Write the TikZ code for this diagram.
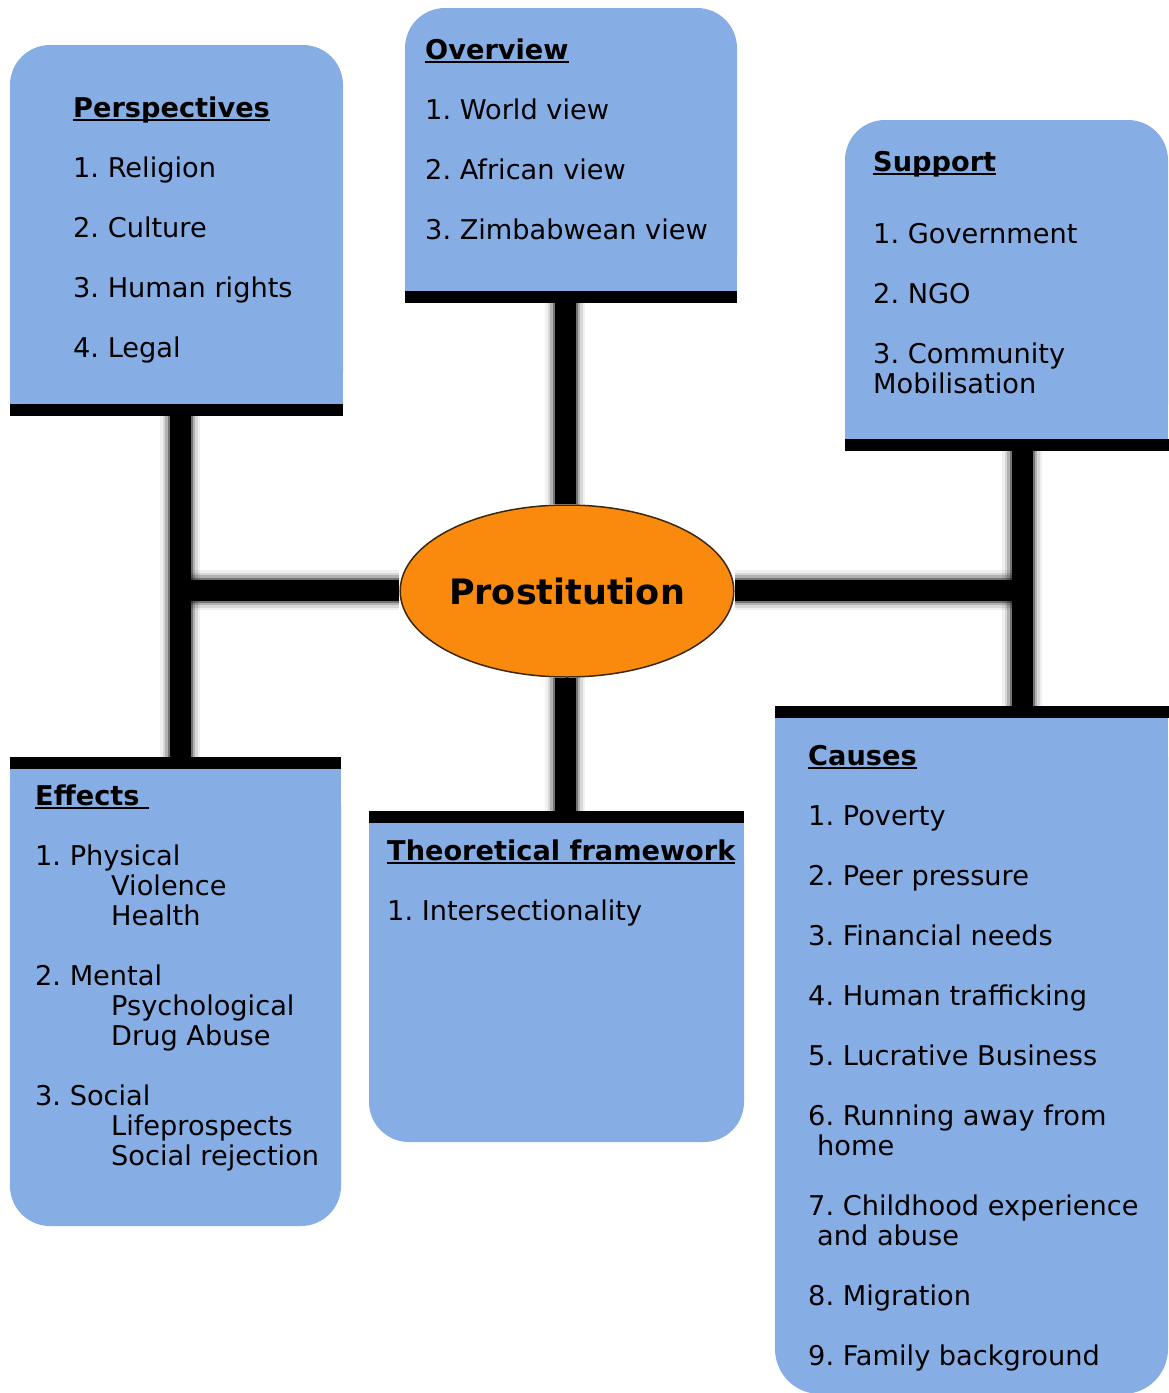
\documentclass[tikz,border=0pt]{standalone}
\usepackage{fontspec}
\setmainfont{DejaVu Sans}
\usetikzlibrary{shapes.geometric,backgrounds}
\definecolor{boxblue}{RGB}{135,174,228}
\definecolor{ellorange}{RGB}{250,138,14}
\definecolor{ellline}{RGB}{60,40,10}
\newcommand\myul[1]{{\setbox0=\hbox{#1}\rlap{\rule[-3.5pt]{\wd0}{2pt}}\box0}}
\frenchspacing
\begin{document}
\begin{tikzpicture}[x=1pt,y=-1pt,
  txt/.style={anchor=base west, inner sep=0pt, font=\fontsize{27.2}{30}\selectfont},
  ttl/.style={anchor=base west, inner sep=0pt, font=\fontsize{27.2}{30}\selectfont\bfseries},
  boxfill/.style={fill=boxblue},
  bar/.style={line width=12pt, black},
  conn/.style={line width=21pt, black,
    preaction={draw, line width=40pt, black, opacity=0.06},
    preaction={draw, line width=35pt, black, opacity=0.10},
    preaction={draw, line width=30pt, black, opacity=0.18},
    preaction={draw, line width=25pt, black, opacity=0.35}}]
\useasboundingbox (0,0) rectangle (1169,1393);
\clip (0,0) rectangle (1169,1393);

% ---------- boxes ----------
% Perspectives
\fill[boxfill, rounded corners=40pt] (10,45) rectangle (343,411);
\fill[boxfill] (10,200) rectangle (343,411);
\draw[bar] (10,410) -- (343,410);
% Overview
\fill[boxfill, rounded corners=40pt] (405,8) rectangle (737,297);
\fill[boxfill] (405,150) rectangle (737,297);
\draw[bar] (405,297) -- (737,297);
% Support
\fill[boxfill, rounded corners=40pt] (845,120) rectangle (1168,445);
\fill[boxfill] (845,250) rectangle (1168,445);
\draw[bar] (845,445) -- (1169,445);
% Effects
\fill[boxfill, rounded corners=40pt] (10,763) rectangle (341,1226);
\fill[boxfill] (10,763) rectangle (341,1000);
\draw[bar] (10,763) -- (341,763);
% Theoretical framework
\fill[boxfill, rounded corners=40pt] (369,817) rectangle (744,1142);
\fill[boxfill] (369,817) rectangle (744,1000);
\draw[bar] (369,817) -- (744,817);
% Causes
\fill[boxfill, rounded corners=45pt] (775,712) rectangle (1168,1394);
\fill[boxfill] (775,712) rectangle (1168,1200);
\draw[bar] (775,712) -- (1169,712);

% ---------- centre ----------
\node[ellipse, draw=ellline, line width=1.5pt, fill=ellorange,
      minimum width=333pt, minimum height=172pt, inner sep=0pt,
      font=\fontsize{35}{40}\selectfont\bfseries] (c) at (567,591) {Prostitution};

% ---------- attachment points ----------
\coordinate (pb) at (180,410);
\coordinate (eb) at (180,763);
\coordinate (jl) at (180,590);
\coordinate (ob) at (565,297);
\coordinate (tb) at (565,817);
\coordinate (sb) at (1022,445);
\coordinate (cb) at (1022,712);
\coordinate (jr) at (1022,590);

\begin{scope}[on background layer]
\draw[conn] (c.west |- jl) -- (jl);
\draw[conn] (pb) -- (eb);
\draw[conn] (c.east |- jr) -- (jr);
\draw[conn] (sb) -- (cb);
\draw[conn] (ob) -- (ob |- c.north);
\draw[conn] (tb) -- (tb |- c.south);
\end{scope}

% ---------- texts ----------
% Perspectives
\node[ttl] (p0) at (73,117) {\myul{Perspectives}};
\node[txt] (p1) at (73,177) {1. Religion};
\node[txt] (p2) at (73,237) {2. Culture};
\node[txt] (p3) at (73,297) {3. Human rights};
\node[txt] (p4) at (73,357) {4. Legal};
% Overview
\node[ttl] (o0) at (425,59) {\myul{Overview}};
\node[txt] (o1) at (425,119) {1. World view};
\node[txt] (o2) at (425,179) {2. African view};
\node[txt] (o3) at (425,239) {3. Zimbabwean view};
% Support
\node[ttl] (s0) at (873,171) {\myul{Support}};
\node[txt] (s1) at (873,243) {1. Government};
\node[txt] (s2) at (873,303) {2. NGO};
\node[txt] (s3) at (873,363) {3. Community};
\node[txt] (s3b) at (873,393) {Mobilisation};
% Effects
\node[ttl] (e0) at (35,805) {\myul{Effects\ }};
\node[txt] (e1) at (35,865) {1. Physical};
\node[txt] (e1a) at (111,895) {Violence};
\node[txt] (e1b) at (111,925) {Health};
\node[txt] (e2) at (35,985) {2. Mental};
\node[txt] (e2a) at (111,1015) {Psychological};
\node[txt] (e2b) at (111,1045) {Drug Abuse};
\node[txt] (e3) at (35,1105) {3. Social};
\node[txt] (e3a) at (111,1135) {Lifeprospects};
\node[txt] (e3b) at (111,1165) {Social rejection};
% Theoretical framework
\node[ttl] (t0) at (387,860) {\myul{Theoretical framework}};
\node[txt] (t1) at (387,920) {1. Intersectionality};
% Causes
\node[ttl] (k0) at (808,765) {\myul{Causes}};
\node[txt] (k1) at (808,825) {1. Poverty};
\node[txt] (k2) at (808,885) {2. Peer pressure};
\node[txt] (k3) at (808,945) {3. Financial needs};
\node[txt] (k4) at (808,1005) {4. Human trafficking};
\node[txt] (k5) at (808,1065) {5. Lucrative Business};
\node[txt] (k6) at (808,1125) {6. Running away from};
\node[txt] (k6b) at (817,1155) {home};
\node[txt] (k7) at (808,1215) {7. Childhood experience};
\node[txt] (k7b) at (817,1245) {and abuse};
\node[txt] (k8) at (808,1305) {8. Migration};
\node[txt] (k9) at (808,1365) {9. Family background};
\end{tikzpicture}
\end{document}
